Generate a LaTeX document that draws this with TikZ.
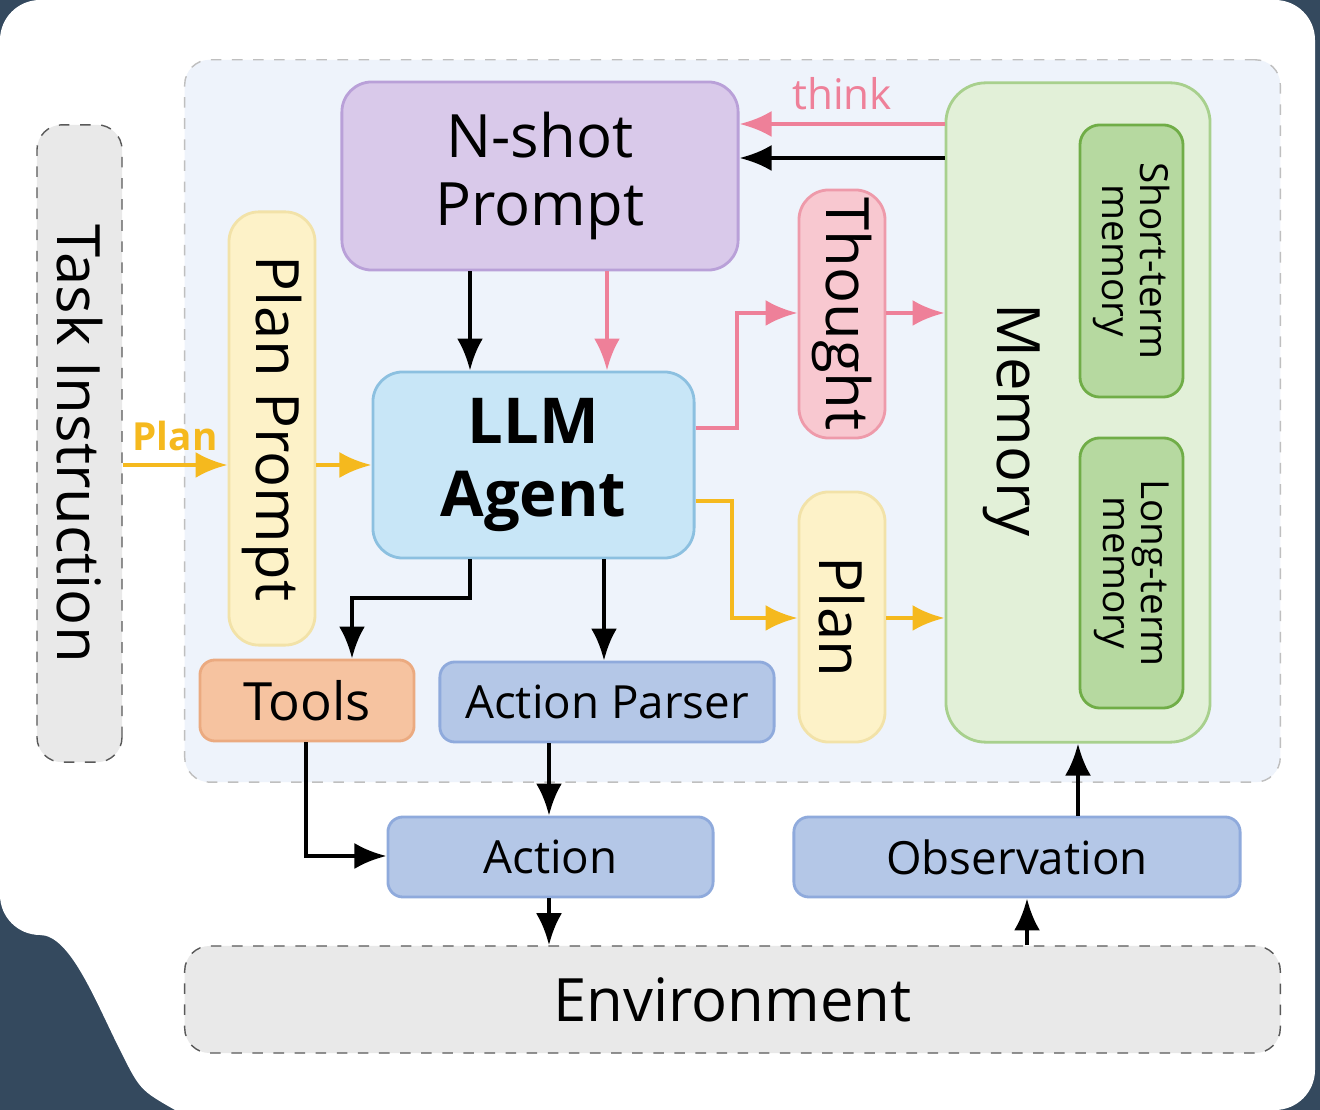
\documentclass[tikz,border=0pt]{standalone}
\usepackage{fontspec}
\setmainfont{Open Sans}
\usetikzlibrary{arrows.meta,calc}
\definecolor{bgdark}{HTML}{34495E}
\definecolor{regionfill}{HTML}{EEF3FB}
\definecolor{purplefill}{HTML}{D9C9EA}
\definecolor{purpleline}{HTML}{B9A0D8}
\definecolor{yellowfill}{HTML}{FDF2C8}
\definecolor{yellowline}{HTML}{F2E2A8}
\definecolor{bluefill}{HTML}{C8E6F7}
\definecolor{blueline}{HTML}{8CC0E0}
\definecolor{pinkfill}{HTML}{F8C8D0}
\definecolor{pinkline}{HTML}{EE9AAA}
\definecolor{greenfill}{HTML}{E2F0D8}
\definecolor{greenline}{HTML}{A8D08D}
\definecolor{darkgreenfill}{HTML}{B6D9A0}
\definecolor{darkgreenline}{HTML}{70AD47}
\definecolor{orangefill}{HTML}{F6C3A0}
\definecolor{orangeline}{HTML}{EBAA80}
\definecolor{actfill}{HTML}{B4C7E7}
\definecolor{actline}{HTML}{8FAADC}
\definecolor{grayfill}{HTML}{E9E9E9}
\definecolor{pinkarrow}{HTML}{EE8099}
\definecolor{yellowarrow}{HTML}{F5B91E}
\tikzset{
  box/.style={draw, rounded corners=0.3cm, line width=0.8pt, inner sep=0pt, align=center},
  dashbox/.style={draw=gray!70!black, dashed, rounded corners=0.25cm, inner sep=0pt, fill=grayfill},
  arr/.style={-{Latex[length=3.2mm,width=2.6mm]}, line width=1.3pt},
  pinkarr/.style={arr, draw=pinkarrow},
  yelarr/.style={arr, draw=yellowarrow},
}
\newcommand{\fsz}[1]{\fontsize{#1}{1.15\dimexpr #1pt\relax}\selectfont}
\begin{document}
\begin{tikzpicture}[x=0.01cm,y=-0.01cm]
\useasboundingbox (0,0) rectangle (1320,1110);
% background card
\fill[bgdark] (0,0) rectangle (1320,1110);
\fill[white] (0,935) .. controls (70,935) and (95,1000) .. (120,1050) .. controls (140,1090) .. (175,1110)
  [rounded corners=0.4cm] -- (1315,1110) -- (1315,0) -- (0,0) -- cycle;
% frames
\node[dashbox, fill=regionfill, draw=gray!50, minimum width=10.95cm, minimum height=7.22cm] (region) at (732.5,421) {};
\node[dashbox, rotate=-90, minimum width=6.37cm, minimum height=0.85cm, font=\fsz{17}] (task) at (79.5,443.5) {Task Instruction};
\node[dashbox, minimum width=10.95cm, minimum height=1.07cm, font=\fsz{17}] (env) at (732.5,999.5) {Environment};
% boxes
\node[box, fill=purplefill, draw=purpleline, minimum width=3.96cm, minimum height=1.88cm, font=\fsz{17}] (nshot) at (540,176) {N-shot\\Prompt};
\node[box, fill=yellowfill, draw=yellowline, rotate=-90, minimum width=4.33cm, minimum height=0.86cm, font=\fsz{17}] (pprompt) at (272,428.5) {Plan Prompt};
\node[box, fill=bluefill, draw=blueline, minimum width=3.21cm, minimum height=1.86cm, font=\fsz{18}\bfseries] (llm) at (533.5,465) {LLM\\Agent};
\node[box, fill=pinkfill, draw=pinkline, rotate=-90, minimum width=2.48cm, minimum height=0.86cm, font=\fsz{17}] (thought) at (842,314) {Thought};
\node[box, fill=yellowfill, draw=yellowline, rotate=-90, minimum width=2.5cm, minimum height=0.86cm, font=\fsz{17}] (plan) at (842,617) {Plan};
\node[box, fill=greenfill, draw=greenline, minimum width=2.64cm, minimum height=6.59cm, rounded corners=0.4cm] (memory) at (1078,412.5) {};
\node[rotate=-90, font=\fsz{17}] (memlabel) at (1012,420) {Memory};
\node[box, fill=darkgreenfill, draw=darkgreenline, rotate=-90, minimum width=2.72cm, minimum height=1.03cm, font=\fsz{11}, rounded corners=0.2cm] (stm) at (1131.5,261) {Short-term\\[-2pt]memory};
\node[box, fill=darkgreenfill, draw=darkgreenline, rotate=-90, minimum width=2.70cm, minimum height=1.03cm, font=\fsz{11}, rounded corners=0.2cm] (ltm) at (1131.5,573) {Long-term\\[-2pt]memory};
\node[box, fill=orangefill, draw=orangeline, minimum width=2.14cm, minimum height=0.81cm, font=\fsz{15}, rounded corners=0.15cm] (tools) at (307,700.5) {Tools};
\node[box, fill=actfill, draw=actline, minimum width=3.34cm, minimum height=0.80cm, font=\fsz{13}, rounded corners=0.15cm] (parser) at (607,702) {Action Parser};
\node[box, fill=actfill, draw=actline, minimum width=3.25cm, minimum height=0.80cm, font=\fsz{13}, rounded corners=0.15cm] (action) at (550.5,857) {Action};
\node[box, fill=actfill, draw=actline, minimum width=4.46cm, minimum height=0.80cm, font=\fsz{13}, rounded corners=0.15cm] (obs) at (1017,857) {Observation};
% connectors
\draw[yelarr] (task.north |- 0,465) -- node[above, text=yellowarrow, font=\fsz{11}\bfseries] {Plan} (pprompt.south |- 0,465);
\draw[yelarr] (pprompt.north |- 0,465) -- (llm.west |- 0,465);
\draw[arr] (470,0 |- nshot.south) -- (470,0 |- llm.north);
\draw[pinkarr] (607,0 |- nshot.south) -- (607,0 |- llm.north);
\draw[pinkarr] (llm.east |- 0,428) -- (737,428) -- (737,313) -- (thought.south |- 0,313);
\draw[pinkarr] (thought.north |- 0,313) -- (memory.west |- 0,313);
\draw[yelarr] (llm.east |- 0,501) -- (732,501) -- (732,618) -- (plan.south |- 0,618);
\draw[yelarr] (plan.north |- 0,618) -- (memory.west |- 0,618);
\draw[pinkarr] (memory.west |- 0,124) -- node[above, text=pinkarrow, font=\fsz{12}] {think} (nshot.east |- 0,124);
\draw[arr] (memory.west |- 0,158) -- (nshot.east |- 0,158);
\draw[arr] (470,0 |- llm.south) -- (470,598) -- (352,598) -- (352,0 |- tools.north);
\draw[arr] (604,0 |- llm.south) -- (604,0 |- parser.north);
\draw[arr] (549,0 |- parser.south) -- (549,0 |- action.north);
\draw[arr] (306,0 |- tools.south) -- (306,856) -- (action.west |- 0,856);
\draw[arr] (549,0 |- action.south) -- (549,0 |- env.north);
\draw[arr] (1027,0 |- env.north) -- (1027,0 |- obs.south);
\draw[arr] (1078,0 |- obs.north) -- (1078,0 |- memory.south);
\end{tikzpicture}
\end{document}
